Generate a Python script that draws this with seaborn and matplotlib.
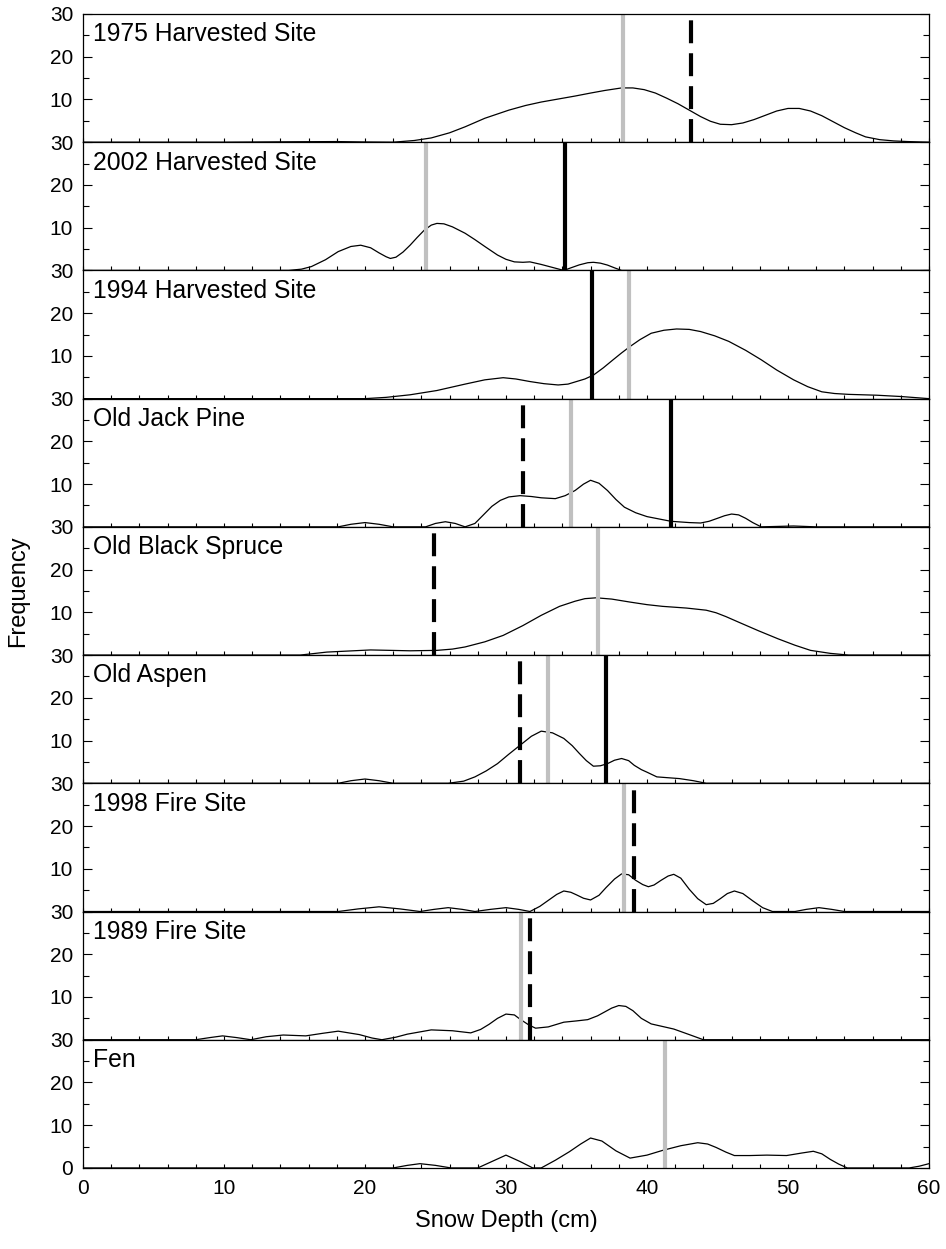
import matplotlib
matplotlib.use("Agg")
import matplotlib.pyplot as plt
from matplotlib.ticker import MultipleLocator
import pandas as pd
import seaborn as sns

# panel names, top to bottom
sites = ["1975 Harvested Site", "2002 Harvested Site", "1994 Harvested Site",
         "Old Jack Pine", "Old Black Spruce", "Old Aspen",
         "1998 Fire Site", "1989 Fire Site", "Fen"]

# frequency curves (snow depth in cm, frequency)
depth_1975 = [0, 10, 15, 18, 20, 22, 23.5, 24.7, 26.0, 27.1, 28.5, 30.2, 31.4, 32.5, 33.7, 34.9,
              36.0, 37.0, 38.2, 39.0, 39.8, 40.6, 41.4, 42.2, 43.0, 43.8, 44.5, 45.2, 46.0,
              46.8, 47.6, 48.4, 49.2, 50.0, 50.8, 51.6, 52.4, 53.2, 54.0, 54.8, 55.5, 56.5,
              57.5, 58.5, 60]
freq_1975 = [0, 0, 0.1, 0.15, 0.05, 0, 0.4, 1.0, 2.2, 3.6, 5.6, 7.5, 8.6, 9.4, 10.1, 10.8,
             11.5, 12.1, 12.7, 12.7, 12.3, 11.5, 10.3, 9.0, 7.5, 6.0, 4.9, 4.2, 4.1,
             4.5, 5.3, 6.3, 7.3, 7.9, 7.9, 7.3, 6.2, 4.8, 3.4, 2.2, 1.25, 0.6,
             0.3, 0.15, 0]

depth_2002 = [0, 14.6, 15.5, 16.2, 17.2, 18.1, 19.0, 19.7, 20.4, 21.0, 21.5, 21.8, 22.2, 22.7,
              23.2, 23.7, 24.2, 24.7, 25.1, 25.6, 26.2, 27.1, 27.8, 28.5, 29.4, 30.0, 30.6,
              31.2, 31.7, 32.5, 33.3, 34.1, 34.6, 35.2, 35.8, 36.2, 36.7, 37.2, 37.7, 38.2, 60]
freq_2002 = [0, 0, 0.3, 0.9, 2.5, 4.4, 5.6, 5.9, 5.3, 4.1, 3.2, 2.8, 3.1, 4.3,
             5.9, 7.7, 9.4, 10.6, 11.0, 10.9, 10.2, 8.7, 7.2, 5.6, 3.6, 2.6, 2.0,
             1.9, 2.0, 1.4, 0.7, 0, 0.6, 1.3, 1.8, 1.9, 1.7, 1.25, 0.6, 0, 0]

depth_1994 = [0, 20, 21.5, 23.2, 25.1, 27.1, 28.5, 29.8, 30.7, 31.7, 32.7, 33.7, 34.4, 35.0,
              35.6, 36.2, 36.9, 37.6, 38.2, 38.8, 39.5, 40.3, 41.2, 42.1, 43.0, 43.8, 44.8,
              45.8, 47.0, 48.1, 49.2, 50.4, 51.4, 52.4, 53.3, 54.3, 56.3, 58.0, 60]
freq_1994 = [0, 0, 0.3, 0.9, 1.9, 3.4, 4.4, 4.9, 4.6, 4.0, 3.5, 3.2, 3.4, 4.0,
             4.6, 5.5, 7.2, 9.1, 10.7, 12.2, 13.8, 15.3, 16.0, 16.3, 16.2, 15.7, 14.7,
             13.4, 11.3, 9.1, 6.7, 4.4, 2.8, 1.6, 1.2, 1.0, 0.8, 0.5, 0]

depth_jack = [0, 18.1, 19.0, 20.0, 21.0, 22.0, 24.3, 25.0, 25.7, 26.4, 27.1, 27.8, 28.4, 29.0,
              29.6, 30.2, 31.0, 31.8, 32.5, 33.5, 34.2, 34.9, 35.5, 36.0, 36.6, 37.2, 37.8,
              38.4, 39.2, 40.0, 41.7, 43.0, 43.8, 44.4, 45.0, 45.5, 46.0, 46.5, 47.0, 47.5,
              48.1, 50.4, 52, 60]
freq_jack = [0, 0, 0.6, 1.0, 0.6, 0, 0, 0.8, 1.2, 0.8, 0, 0.8, 2.8, 4.8,
             6.2, 7.0, 7.3, 7.1, 6.8, 6.6, 7.3, 8.5, 10.0, 10.9, 10.2, 8.5, 6.4,
             4.6, 3.3, 2.4, 1.3, 1.0, 0.9, 1.3, 2.0, 2.6, 3.0, 2.8, 2.0, 1.0,
             0, 0.2, 0, 0]

depth_spruce = [0, 15.4, 17.3, 20.4, 23.2, 25.1, 26.2, 27.1, 28.5, 29.8, 31.2, 32.5, 33.8,
                34.9, 35.6, 36.4, 37.5, 38.8, 40.0, 41.1, 42.8, 44.2, 44.9, 45.6, 46.5, 47.9,
                49.3, 50.5, 51.6, 53.0, 54.3, 60]
freq_spruce = [0, 0, 0.7, 1.2, 1.0, 1.1, 1.4, 1.9, 3.1, 4.6, 6.9, 9.3, 11.4,
               12.6, 13.2, 13.4, 13.1, 12.4, 11.8, 11.4, 11.0, 10.5, 9.9, 9.0, 7.7, 5.7,
               3.8, 2.3, 1.1, 0.4, 0, 0]

depth_aspen = [0, 18.1, 19.0, 20.0, 21.0, 22.0, 25.9, 27.0, 27.8, 28.6, 29.4, 30.2, 31.0,
               31.8, 32.5, 33.3, 34.1, 34.7, 35.2, 35.7, 36.2, 36.7, 37.2, 37.7, 38.2, 38.7,
               39.1, 39.6, 40.0, 40.7, 42.3, 43.3, 44.2, 60]
freq_aspen = [0, 0, 0.6, 1.0, 0.6, 0, 0, 0.5, 1.5, 2.9, 4.6, 6.8, 8.9,
              11.0, 12.2, 11.8, 10.5, 8.8, 7.0, 5.3, 4.0, 4.1, 4.6, 5.4, 5.8, 5.3,
              4.2, 3.2, 2.6, 1.5, 1.1, 0.6, 0, 0]

depth_1998 = [0, 18.1, 19.5, 21.0, 22.5, 23.9, 24.9, 25.9, 26.9, 27.8, 28.9, 30.0, 30.9, 31.7,
              32.4, 33.0, 33.6, 34.1, 34.6, 35.0, 35.5, 36.0, 36.6, 37.1, 37.7, 38.2, 38.7,
              39.2, 39.7, 40.1, 40.5, 41.0, 41.5, 41.9, 42.4, 43.0, 43.6, 44.2, 44.7, 45.2,
              45.7, 46.2, 46.8, 47.5, 48.2, 48.9, 50.5, 51.3, 52.2, 53.1, 54.0, 60]
freq_1998 = [0, 0, 0.6, 1.1, 0.6, 0, 0.5, 0.9, 0.5, 0, 0.5, 0.9, 0.5, 0,
             1.2, 2.6, 4.0, 4.8, 4.5, 3.9, 3.1, 2.7, 3.8, 5.6, 7.6, 8.8, 8.6,
             7.3, 6.3, 5.8, 6.2, 7.3, 8.3, 8.7, 7.8, 5.2, 3.0, 1.6, 1.9, 3.0,
             4.2, 4.8, 4.2, 2.5, 0.9, 0, 0, 0.5, 0.9, 0.5, 0, 0]

depth_1989 = [0, 8.0, 9.0, 9.9, 10.9, 11.9, 13.0, 14.2, 15.8, 17.0, 18.1, 19.6, 20.5, 21.2,
              22.2, 23.0, 24.7, 26.2, 27.5, 28.2, 28.8, 29.4, 30.0, 30.6, 31.0, 31.6, 32.1,
              33.0, 34.1, 35.0, 35.8, 36.5, 37.0, 37.5, 38.0, 38.5, 39.0, 39.6, 40.3, 41.1,
              41.9, 43.0, 44.0, 60]
freq_1989 = [0, 0, 0.5, 0.9, 0.5, 0, 0.7, 1.1, 0.9, 1.5, 2.0, 1.2, 0.4, 0,
             0.6, 1.3, 2.3, 2.1, 1.6, 2.4, 3.6, 5.0, 6.0, 5.8, 4.8, 3.5, 2.7,
             3.0, 4.1, 4.4, 4.7, 5.6, 6.5, 7.4, 8.0, 7.8, 6.8, 5.0, 3.7, 3.1,
             2.5, 1.2, 0, 0]

depth_fen = [0, 22.0, 23.0, 23.9, 25.0, 26.1, 28.0, 29.0, 30.0, 31.0, 31.9, 32.5, 33.5, 34.5,
             35.3, 36.0, 36.8, 37.8, 38.8, 40.0, 41.1, 42.4, 43.6, 44.3, 44.9, 45.6, 46.2,
             47.3, 48.5, 49.9, 51.0, 51.8, 52.4, 53.0, 53.6, 54.2, 58.6, 59.3, 60]
freq_fen = [0, 0, 0.6, 1.0, 0.6, 0, 0, 1.5, 3.0, 1.5, 0, 0, 1.8, 3.8,
            5.6, 7.0, 6.3, 4.0, 2.3, 3.0, 4.1, 5.2, 5.9, 5.6, 4.8, 3.7, 2.9,
            2.9, 3.0, 2.9, 3.5, 3.9, 3.3, 2.0, 0.9, 0, 0, 0.4, 1.0]

# reference lines per panel (None = not drawn)
gray_line = [38.3, 24.3, 38.7, 34.6, 36.5, 33.0, 38.4, 31.1, 41.3]
solid_line = [None, 34.2, 36.1, 41.7, None, 37.1, None, None, None]
dashed_line = [43.1, None, None, 31.2, 24.9, 31.0, 39.1, 31.7, None]

curves = [(depth_1975, freq_1975), (depth_2002, freq_2002), (depth_1994, freq_1994),
          (depth_jack, freq_jack), (depth_spruce, freq_spruce), (depth_aspen, freq_aspen),
          (depth_1998, freq_1998), (depth_1989, freq_1989), (depth_fen, freq_fen)]

df = pd.concat([pd.DataFrame({"site": s, "depth": d, "freq": f})
                for s, (d, f) in zip(sites, curves)], ignore_index=True)

sns.set_theme(style="ticks")
plt.rcParams["font.family"] = ["Liberation Sans", "DejaVu Sans"]
plt.rcParams.update({"text.color": "black", "axes.labelcolor": "black",
                     "xtick.color": "black", "ytick.color": "black"})

fig, axes = plt.subplots(len(sites), 1, figsize=(9.46, 12.49), dpi=100, sharex=True)
fig.subplots_adjust(left=0.0877, right=0.982, top=0.9888, bottom=0.0649, hspace=0)

for i, (ax, site) in enumerate(zip(axes, sites)):
    sub = df[df["site"] == site]
    sns.lineplot(data=sub, x="depth", y="freq", ax=ax, color="black",
                 linewidth=0.9, estimator=None, sort=False)
    if gray_line[i] is not None:
        ax.axvline(gray_line[i], color="#c0c0c0", linewidth=3)
    if solid_line[i] is not None:
        ax.axvline(solid_line[i], color="black", linewidth=3)
    if dashed_line[i] is not None:
        ax.axvline(dashed_line[i], color="black", linewidth=3, dashes=(5.5, 2.4))
    ax.set_xlim(0, 60)
    ax.set_ylim(0, 30)
    ax.set_xlabel("")
    ax.set_ylabel("")
    if i == len(sites) - 1:
        ax.set_yticks([0, 10, 20, 30])
    else:
        ax.set_yticks([10, 20, 30])
    ax.yaxis.set_minor_locator(MultipleLocator(5))
    ax.xaxis.set_major_locator(MultipleLocator(10))
    ax.xaxis.set_minor_locator(MultipleLocator(2))
    ax.tick_params(axis="y", which="major", direction="in", length=6.5, width=0.8,
                   labelsize=15, pad=7, right=True)
    ax.tick_params(axis="y", which="minor", direction="in", length=4.3, width=0.8, right=True)
    ax.tick_params(axis="x", which="both", direction="in", length=3, width=0.8,
                   labelsize=15, pad=8)
    for sp in ax.spines.values():
        sp.set_visible(True)
        sp.set_linewidth(0.9)
        sp.set_color("black")
    ax.text(0.012, 0.935, site, transform=ax.transAxes, ha="left", va="top", fontsize=17.8)

fig.text(0.019, 0.527, "Frequency", rotation=90, ha="center", va="center", fontsize=17)
fig.text(0.535, 0.0224, "Snow Depth (cm)", ha="center", va="center", fontsize=17)

plt.savefig("out.png", dpi=100)
plt.close()
